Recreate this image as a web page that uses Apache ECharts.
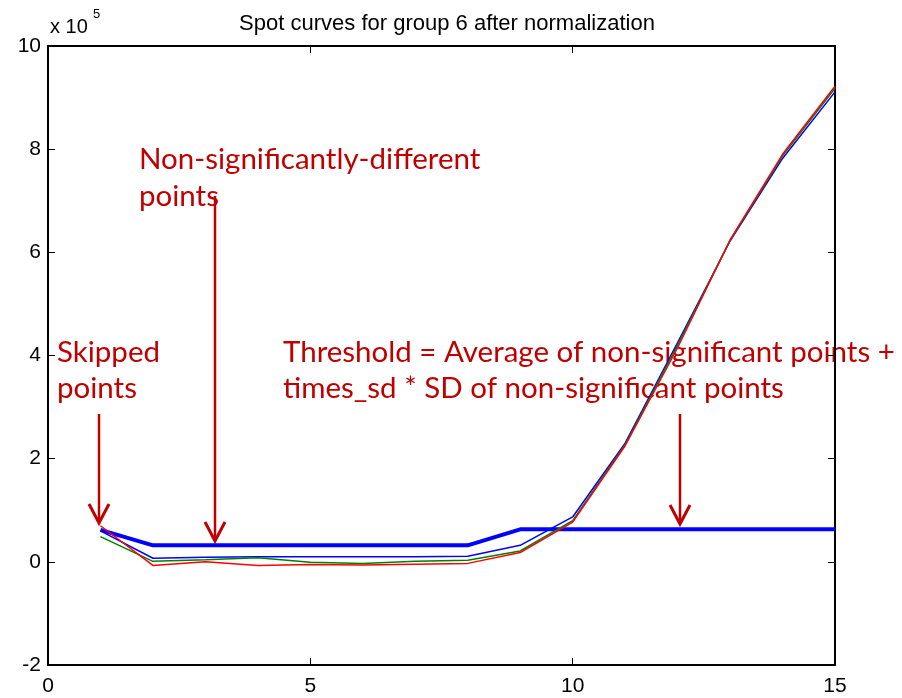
<!DOCTYPE html>
<html>
<head>
<meta charset="utf-8">
<script src="https://cdn.jsdelivr.net/npm/echarts@6/dist/echarts.min.js"></script>
<style>html,body{margin:0;padding:0;background:#fff;}#c{width:902px;height:698px;}</style>
</head>
<body>
<div id="c"></div>
<script>
const xs = [1,2,3,4,5,6,7,8,9,10,11,12,13,14,15];
const threshold = [0.62,0.32,0.32,0.32,0.32,0.32,0.32,0.32,0.63,0.63,0.63,0.63,0.63,0.63,0.63];
const blueCurve = [0.60,0.07,0.09,0.10,0.10,0.10,0.10,0.11,0.32,0.87,2.30,4.25,6.22,7.82,9.11];
const greenCurve = [0.49,0.01,0.04,0.08,-0.01,-0.03,0.01,0.03,0.21,0.80,2.27,4.20,6.23,7.87,9.18];
const redCurve = [0.70,-0.07,0.00,-0.07,-0.05,-0.06,-0.045,-0.03,0.18,0.77,2.25,4.15,6.24,7.90,9.22];
const xTicks = [0,5,10,15];
const yTicks = [-2,0,2,4,6,8,10];

const toPairs = a => xs.map((x,i)=>[x,a[i]]);
const chart = echarts.init(document.getElementById('c'));
const tickFont = {fontFamily:'Liberation Sans', fontSize:21, color:'#000'};
const red = '#C00000';
const annFont = '29.5px Lato';
function arrow(x, y0, y1){
  return [
    {type:'line', shape:{x1:x,y1:y0,x2:x,y2:y1-2}, style:{stroke:red,lineWidth:2.5}},
    {type:'polyline', shape:{points:[[x-10,y1-19],[x,y1],[x+10,y1-19]]}, style:{stroke:red,lineWidth:3,fill:null}}
  ];
}
const axLine = {onZero:false, lineStyle:{color:'#000',width:2}};
const axTick = {inside:true,length:7,lineStyle:{color:'#000'}};
chart.setOption({
  animation:false,
  title:{text:'Spot curves for group 6 after normalization', left:442, top:8, textAlign:'center',
    textStyle:{fontFamily:'Liberation Sans', fontSize:22, fontWeight:'normal', color:'#000'}},
  grid:{left:48, right:67, top:46, bottom:33},
  xAxis:[
    {type:'value', min:0, max:15, interval:5, position:'bottom',
     axisLine:axLine, axisTick:axTick,
     axisLabel:Object.assign({margin:11, formatter:v=>xTicks.includes(v)?String(v):''},tickFont), splitLine:{show:false}},
    {type:'value', min:0, max:15, interval:5, position:'top',
     axisLine:axLine, axisTick:axTick,
     axisLabel:{show:false}, splitLine:{show:false}}
  ],
  yAxis:[
    {type:'value', min:-2, max:10, interval:2, position:'left',
     axisLine:axLine, axisTick:axTick,
     axisLabel:Object.assign({margin:7, formatter:v=>yTicks.includes(v)?String(v):''},tickFont), splitLine:{show:false}},
    {type:'value', min:-2, max:10, interval:2, position:'right',
     axisLine:axLine, axisTick:axTick,
     axisLabel:{show:false}, splitLine:{show:false}}
  ],
  series:[
    {type:'line', data:toPairs(blueCurve), showSymbol:false, lineStyle:{color:'#0000FF',width:1.5}, z:3},
    {type:'line', data:toPairs(greenCurve), showSymbol:false, lineStyle:{color:'#008000',width:1.5}, z:3},
    {type:'line', data:toPairs(redCurve), showSymbol:false, lineStyle:{color:'#FF0000',width:1.5}, z:4},
    {type:'line', data:toPairs(threshold), showSymbol:false, lineStyle:{color:'#0000FF',width:4}, z:2}
  ],
  graphic:[
    {type:'text', left:50, top:17, style:{text:'x 10', font:'20px Liberation Sans', fill:'#000'}},
    {type:'text', left:93, top:8, style:{text:'5', font:'13px Liberation Sans', fill:'#000'}},
    {type:'text', left:139, top:144, style:{text:'Non-significantly-different', font:annFont, fill:red}},
    {type:'text', left:139, top:181, style:{text:'points', font:annFont, fill:red}},
    {type:'text', left:57, top:337, style:{text:'Skipped', font:annFont, fill:red}},
    {type:'text', left:57, top:373, style:{text:'points', font:annFont, fill:red}},
    {type:'text', left:283, top:337, style:{text:'Threshold = Average of non-significant points +', font:annFont, fill:red}},
    {type:'text', left:283, top:373, style:{text:'times_sd * SD of non-significant points', font:annFont, fill:red}},
    ...arrow(99, 414, 523),
    ...arrow(215, 196, 541),
    ...arrow(680, 414, 524)
  ]
});
</script>
</body>
</html>
